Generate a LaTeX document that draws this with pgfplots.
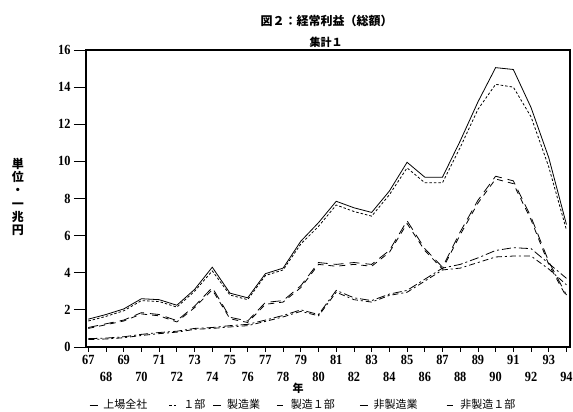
\documentclass[border=0pt]{standalone}
\usepackage{fontspec}
\usepackage{pgfplots}
\usepackage{pgfplotstable}
\pgfplotsset{compat=1.18}
\newfontfamily\numfont[FakeStretch=0.88]{Liberation Serif}
\newfontfamily\jp{Noto Sans CJK JP}

% 経常利益（総額）, 単位：兆円
\pgfplotstableread{
year all   ichibu mfg  mfgi non  noni
67   1.50  1.40   1.05 1.00 0.45 0.40
68   1.75  1.65   1.25 1.20 0.48 0.43
69   2.05  1.95   1.45 1.40 0.55 0.50
70   2.60  2.50   1.85 1.78 0.68 0.62
71   2.55  2.45   1.75 1.68 0.78 0.72
72   2.25  2.15   1.42 1.35 0.85 0.80
73   3.10  3.00   2.20 2.12 1.00 0.95
74   4.30  4.10   3.20 3.08 1.05 1.00
75   2.90  2.80   1.60 1.52 1.15 1.08
76   2.65  2.55   1.40 1.32 1.22 1.15
77   3.95  3.85   2.40 2.30 1.45 1.38
78   4.25  4.15   2.50 2.42 1.70 1.62
79   5.70  5.55   3.30 3.20 2.00 1.92
80   6.70  6.50   4.55 4.45 1.75 1.68
81   7.85  7.65   4.45 4.35 3.05 2.95
82   7.50  7.30   4.55 4.45 2.65 2.55
83   7.25  7.05   4.45 4.35 2.50 2.42
84   8.40  8.20   5.20 5.10 2.85 2.78
85   9.95  9.65   6.80 6.65 3.05 2.95
86   9.15  8.85   5.30 5.20 3.65 3.55
87   9.15  8.85   4.30 4.20 4.25 4.15
88   11.10 10.75  6.20 6.05 4.45 4.25
89   13.20 12.80  7.90 7.75 4.80 4.55
90   15.05 14.15  9.20 9.05 5.20 4.85
91   14.95 14.00  8.95 8.80 5.35 4.90
92   12.90 12.40  7.00 6.85 5.30 4.90
93   10.20 9.70   4.60 4.45 4.50 4.20
94   6.60  6.30   2.80 2.70 3.70 3.35
}\profit

\begin{document}
\begin{tikzpicture}
\useasboundingbox (-86pt,-65pt) rectangle (487pt,347pt);
\begin{axis}[
    scale only axis,
    width=484pt, height=297pt,
    xmin=66.87, xmax=94.2,
    ymin=0, ymax=16,
    axis line style={line width=1.2pt},
    tick align=outside, tick pos=left,
    major tick length=5pt,
    xtick={67,69,...,93},
    extra x ticks={68,70,...,94},
    extra x tick style={xticklabel style={yshift=-17pt}},
    ytick=\empty,
    extra y ticks={0,2,...,16},
    extra y tick style={major tick length=12pt},
    tick style={line width=0.8pt, black},
    /pgf/number format/assume math mode=true,
    ticklabel style={font=\numfont\bfseries\fontsize{14}{14}\selectfont},
    legend columns=6,
    legend style={draw=none, fill=none, at={(0,-0.195)}, anchor=west,
        font=\jp\fontsize{11}{11}\selectfont,
        nodes={inner sep=0.5pt},
        /tikz/every odd column/.style={column sep=5pt},
        /tikz/every even column/.style={column sep=0pt}},
    legend image code/.code={\draw[#1] (0pt,0pt) -- (8pt,0pt);},
    every axis plot/.append style={black, line width=0.8pt},
]
\addplot[solid] table[x=year, y=all] {\profit};
\addlegendentry{\makebox[65pt][l]{上場全社}}
\addplot[dash pattern=on 2.5pt off 2pt] table[x=year, y=ichibu] {\profit};
\addlegendentry{\makebox[29pt][l]{１部}}
\addplot[dash pattern=on 10pt off 6pt] table[x=year, y=mfg] {\profit};
\addlegendentry{\makebox[49pt][l]{製造業}}
\addplot[dash pattern=on 6pt off 5pt] table[x=year, y=mfgi] {\profit};
\addlegendentry{\makebox[68pt][l]{製造１部}}
\addplot[dash pattern=on 9pt off 3pt on 2pt off 3pt] table[x=year, y=non] {\profit};
\addlegendentry{\makebox[72pt][l]{非製造業}}
\addplot[dash pattern=on 6pt off 3pt on 2pt off 3pt] table[x=year, y=noni] {\profit};
\addlegendentry{非製造１部}
\end{axis}
\node[font=\jp\bfseries\fontsize{12}{12}\selectfont] at (240.5pt,326pt) {図２：経常利益（総額）};
\node[font=\jp\bfseries\fontsize{11}{11}\selectfont] at (240pt,305pt) {集計１};
\node[font=\jp\bfseries\fontsize{12}{13.2}\selectfont, align=center] at (-68pt,150pt) {単\\位\\・\\一\\兆\\円};
\node[font=\jp\bfseries\fontsize{11}{11}\selectfont] at (212pt,-41pt) {年};
\end{tikzpicture}
\end{document}
